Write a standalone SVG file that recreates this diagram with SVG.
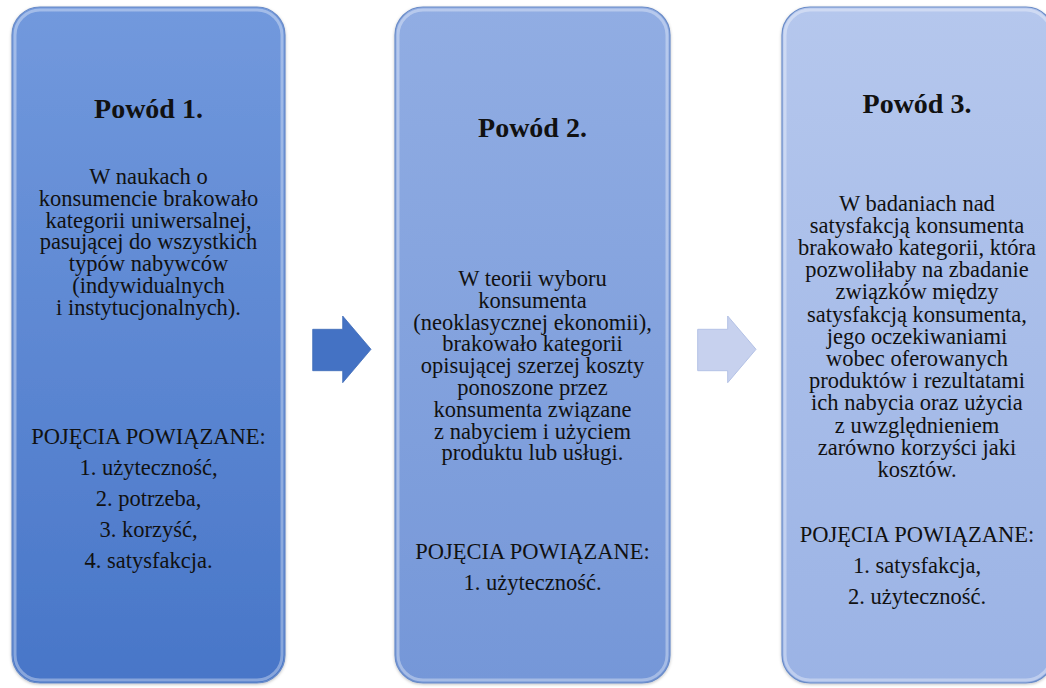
<svg xmlns="http://www.w3.org/2000/svg" width="1046" height="688" viewBox="0 0 1046 688">
<defs>
<linearGradient id="g1" x1="0" y1="0" x2="0" y2="1"><stop offset="0" stop-color="#7299dd"/><stop offset="1" stop-color="#4876c8"/></linearGradient>
<linearGradient id="g2" x1="0" y1="0" x2="0" y2="1"><stop offset="0" stop-color="#91ade3"/><stop offset="1" stop-color="#7597d8"/></linearGradient>
<linearGradient id="g3" x1="0" y1="0" x2="0" y2="1"><stop offset="0" stop-color="#b5c7ed"/><stop offset="1" stop-color="#9bb3e5"/></linearGradient>
<filter id="sh" x="-5%" y="-5%" width="110%" height="110%"><feDropShadow dx="0" dy="1" stdDeviation="1.5" flood-color="#000" flood-opacity="0.25"/></filter>
</defs>
<style>
.box{stroke:#6a8cc8;stroke-width:1.2}
.bevel{fill:none;stroke:#ffffff;stroke-opacity:0.35;stroke-width:3}
text{font-family:"Liberation Serif","Times New Roman",serif;fill:#111;text-anchor:middle}
.t{font-size:28px;font-weight:bold}
.b{font-size:22.5px}
</style>
<rect width="1046" height="688" fill="#fff"/>
<g id="node1">
<rect class="box" x="12" y="7" width="273" height="676" rx="28" fill="url(#g1)" filter="url(#sh)"/>
<rect class="bevel" x="15" y="10" width="267" height="670" rx="25"/>
<text class="t" x="148.5" y="118">Powód 1.</text>
<text class="b" x="148.5" y="184">W naukach o</text>
<text class="b" x="148.5" y="205.8">konsumencie brakowało</text>
<text class="b" x="148.5" y="227.6">kategorii uniwersalnej,</text>
<text class="b" x="148.5" y="249.4">pasującej do wszystkich</text>
<text class="b" x="148.5" y="271.2">typów nabywców</text>
<text class="b" x="148.5" y="293">(indywidualnych</text>
<text class="b" x="148.5" y="314.8">i instytucjonalnych).</text>
<text class="b" x="148.5" y="443.5">POJĘCIA POWIĄZANE:</text>
<text class="b" x="148.5" y="475">1. użyteczność,</text>
<text class="b" x="148.5" y="506">2. potrzeba,</text>
<text class="b" x="148.5" y="537">3. korzyść,</text>
<text class="b" x="148.5" y="567.5">4. satysfakcja.</text>
</g>
<g id="node2">
<rect class="box" x="395" y="7" width="275" height="676" rx="28" fill="url(#g2)" filter="url(#sh)"/>
<rect class="bevel" x="398" y="10" width="269" height="670" rx="25"/>
<text class="t" x="532.5" y="136.5">Powód 2.</text>
<text class="b" x="532.5" y="286">W teorii wyboru</text>
<text class="b" x="532.5" y="307.8">konsumenta</text>
<text class="b" x="532.5" y="329.6">(neoklasycznej ekonomii),</text>
<text class="b" x="532.5" y="351.4">brakowało kategorii</text>
<text class="b" x="532.5" y="373.2">opisującej szerzej koszty</text>
<text class="b" x="532.5" y="395">ponoszone przez</text>
<text class="b" x="532.5" y="416.8">konsumenta związane</text>
<text class="b" x="532.5" y="438.6">z nabyciem i użyciem</text>
<text class="b" x="532.5" y="460.4">produktu lub usługi.</text>
<text class="b" x="532.5" y="559">POJĘCIA POWIĄZANE:</text>
<text class="b" x="532.5" y="590">1. użyteczność.</text>
</g>
<g id="node3">
<rect class="box" x="782" y="7" width="272" height="676" rx="28" fill="url(#g3)" filter="url(#sh)"/>
<rect class="bevel" x="785" y="10" width="266" height="670" rx="25"/>
<text class="t" x="917" y="113">Powód 3.</text>
<text class="b" x="917" y="210.5">W badaniach nad</text>
<text class="b" x="917" y="232.7">satysfakcją konsumenta</text>
<text class="b" x="917" y="254.9">brakowało kategorii, która</text>
<text class="b" x="917" y="277.1">pozwoliłaby na zbadanie</text>
<text class="b" x="917" y="299.3">związków między</text>
<text class="b" x="917" y="321.5">satysfakcją konsumenta,</text>
<text class="b" x="917" y="343.7">jego oczekiwaniami</text>
<text class="b" x="917" y="365.9">wobec oferowanych</text>
<text class="b" x="917" y="388.1">produktów i rezultatami</text>
<text class="b" x="917" y="410.3">ich nabycia oraz użycia</text>
<text class="b" x="917" y="432.5">z uwzględnieniem</text>
<text class="b" x="917" y="454.7">zarówno korzyści jaki</text>
<text class="b" x="917" y="476.9">kosztów.</text>
<text class="b" x="917" y="542">POJĘCIA POWIĄZANE:</text>
<text class="b" x="917" y="573">1. satysfakcja,</text>
<text class="b" x="917" y="604">2. użyteczność.</text>
</g>
<g id="connectors">
<polygon points="312.7,329.3 342.7,329.3 342.7,316 371,349.3 342.7,382.7 342.7,370.7 312.7,370.7" fill="#4472c4" stroke="#3f6bb8" stroke-width="0.8"/>
<polygon points="697.7,329.3 727.7,329.3 727.7,316 756,349.3 727.7,382.7 727.7,370.7 697.7,370.7" fill="#c7d1ee" stroke="#b4c2e6" stroke-width="1"/>
</g>
</svg>
